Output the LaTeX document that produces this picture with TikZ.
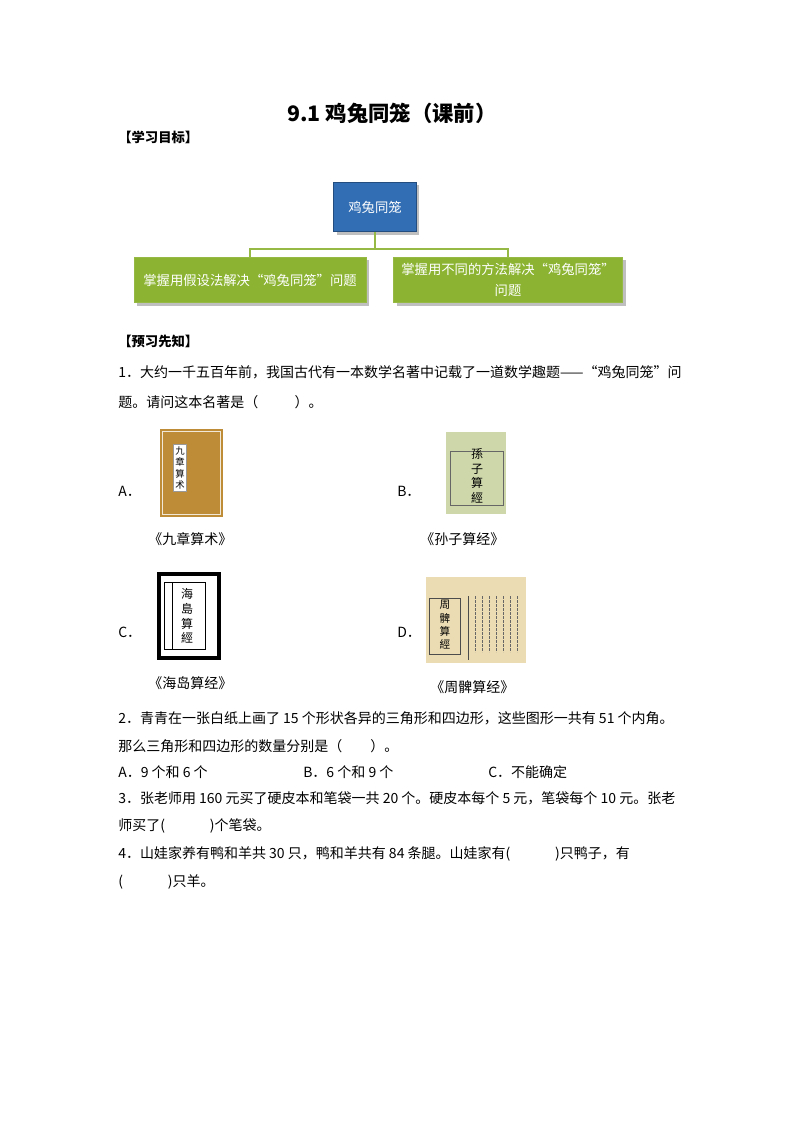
\documentclass[tikz,border=0pt]{standalone}
\usepackage{fontspec}
\setmainfont{Liberation Serif}
\newfontfamily\cjk{Noto Sans CJK SC}
\usetikzlibrary{shadows}
\definecolor{bluebox}{RGB}{50,110,180}
\definecolor{greenbox}{RGB}{140,180,50}
\definecolor{greenline}{RGB}{150,185,70}
\definecolor{bookA}{RGB}{190,140,55}
\definecolor{bookB}{RGB}{205,215,170}
\definecolor{bookD}{RGB}{235,220,180}
\begin{document}
\begin{tikzpicture}[x=0.75pt,y=-0.75pt,
  txt/.style={anchor=west,inner sep=0pt,font=\cjk\fontsize{10.5pt}{12pt}\selectfont},
  hd/.style={anchor=west,inner sep=0pt,font=\cjk\bfseries\fontsize{10pt}{12pt}\selectfont},
  gbox/.style={draw=greenline,fill=greenbox,text=white,align=center,font=\cjk\fontsize{10pt}{16pt}\selectfont,drop shadow},
  conn/.style={draw=greenline,line width=1.5pt}]
\useasboundingbox (0,0) rectangle (794,1123);
\fill[white] (0,0) rectangle (794,1123);
\node[inner sep=0pt,font=\cjk\bfseries\fontsize{16pt}{18pt}\selectfont] (title) at (392,113) {9.1 鸡兔同笼（课前）};
\node[hd] (h1) at (118,137) {【学习目标】};
\node[draw=bluebox!70!black,fill=bluebox,text=white,minimum width=62pt,minimum height=37pt,font=\cjk\fontsize{10pt}{12pt}\selectfont,drop shadow] (root) at (375,207) {鸡兔同笼};
\node[gbox,minimum width=174pt,minimum height=34pt] (L) at (250,280) {掌握用假设法解决“鸡兔同笼”问题};
\node[gbox,minimum width=171pt,minimum height=34pt,text width=165pt] (R) at (508,280) {掌握用不同的方法解决“鸡兔同笼”\\问题};
\coordinate (m) at (375,249);
\draw[conn] (root.south) -- (m) -| (L.north);
\draw[conn] (m) -| (R.north);
\node[hd] (h2) at (118,341) {【预习先知】};
\node[txt] (q1a) at (118,372) {1．大约一千五百年前，我国古代有一本数学名著中记载了一道数学趣题——“鸡兔同笼”问};
\node[txt] (q1b) at (118,402) {题。请问这本名著是（\hspace{2.6em}）。};
% A
\node[txt] (A) at (118,491) {A．};
\node[fill=bookA,minimum width=47pt,minimum height=66pt,inner sep=0pt] (imA) at (191.5,473) {};
\draw[white!80!bookA] ([shift={(2pt,-2pt)}]imA.north west) rectangle ([shift={(-2pt,2pt)}]imA.south east);
\node[fill=white,draw=black!40,inner sep=1.5pt,font=\cjk\fontsize{7pt}{8.5pt}\selectfont,align=center] (labA) at (180,468) {九\\章\\算\\术};
\node[txt] (cA) at (148,539) {《九章算术》};
% B
\node[txt] (B) at (397,491) {B．};
\node[fill=bookB,minimum width=45pt,minimum height=61pt,inner sep=0pt] (imB) at (476,473) {};
\draw[black!60] (450,451) rectangle (503,505);
\node[inner sep=0pt,font=\cjk\fontsize{9pt}{11pt}\selectfont,align=center] (labB) at (477,476) {孫\\子\\算\\經};
\node[txt] (cB) at (420,539) {《孙子算经》};
% C
\node[txt] (C) at (118,632) {C．};
\node[draw=black,line width=2.5pt,fill=white,minimum width=45pt,minimum height=63pt,inner sep=0pt] (imC) at (189,616) {};
\draw[black] (164,582) rectangle (205,649);
\draw[black] (172,582) -- (172,649);
\node[inner sep=0pt,font=\cjk\fontsize{9pt}{11pt}\selectfont,align=center] (labC) at (187,616) {海\\島\\算\\經};
\node[txt] (cC) at (148,683) {《海岛算经》};
% D
\node[txt] (D) at (397,632) {D．};
\node[fill=bookD,minimum width=75pt,minimum height=64pt,inner sep=0pt] (imD) at (476,620) {};
\draw[black!70] (429,598) rectangle (460,654);
\draw[black!70] (468,596) -- (468,660);
\node[inner sep=0pt,font=\cjk\fontsize{8pt}{10pt}\selectfont,align=center] (labD) at (445,625) {周\\髀\\算\\經};
\foreach \xx in {475,482,489,496,503,510,517}{\draw[black!60,line width=0.6pt,dash pattern=on 2pt off 1pt] (\xx,596) -- (\xx,652);}
\node[txt] (cD) at (430,687) {《周髀算经》};
% Q2
\node[txt] (q2a) at (118,718) {2．青青在一张白纸上画了 15 个形状各异的三角形和四边形，这些图形一共有 51 个内角。};
\node[txt] (q2b) at (118,746) {那么三角形和四边形的数量分别是（\hspace{2em}）。};
\node[txt] (o1) at (118,772) {A．9 个和 6 个};
\node[txt] (o2) at (303,772) {B．6 个和 9 个};
\node[txt] (o3) at (488,772) {C．不能确定};
\node[txt] (q3a) at (118,798) {3．张老师用 160 元买了硬皮本和笔袋一共 20 个。硬皮本每个 5 元，笔袋每个 10 元。张老};
\node[txt] (q3b) at (118,826) {师买了(\hspace{3.2em})个笔袋。};
\node[txt] (q4a) at (118,854) {4．山娃家养有鸭和羊共 30 只，鸭和羊共有 84 条腿。山娃家有(\hspace{3.2em})只鸭子，有};
\node[txt] (q4b) at (118,882) {(\hspace{3.2em})只羊。};
\end{tikzpicture}
\end{document}
